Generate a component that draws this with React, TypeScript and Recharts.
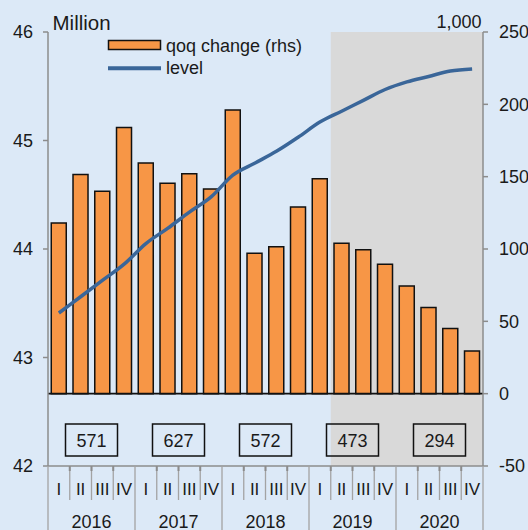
import React from 'react';
import {
  ComposedChart,
  Bar,
  Line,
  XAxis,
  YAxis,
  ReferenceArea,
  ReferenceLine,
} from 'recharts';

const romans = ['I', 'II', 'III', 'IV'];
const years = ['2016', '2017', '2018', '2019', '2020'];
const annualTotals = [571, 627, 572, 473, 294];

const qoqChange = [
  118, 151.5, 140, 184,
  159.5, 145.5, 152, 141.5,
  196, 97, 101.5, 129,
  148.5, 104, 99.5, 89.5,
  74.5, 59.5, 45, 29.5,
];

const level = [
  43.41, 43.56, 43.71, 43.86,
  44.05, 44.19, 44.34, 44.48,
  44.68, 44.79, 44.9, 45.03,
  45.17, 45.27, 45.37, 45.47,
  45.54, 45.59, 45.64, 45.66,
];

const leftTicks = [42, 43, 44, 45, 46];
const rightTicks = [-50, 0, 50, 100, 150, 200, 250];

const seriesNames = ['qoq change (rhs)', 'level'];

const quarters: string[] = [];
years.forEach((y) => romans.forEach((r) => quarters.push(`${r}-${y}`)));

const data = quarters.map((q, i) => ({
  q,
  change: qoqChange[i],
  level: level[i],
}));

const W = 528;
const H = 530;
const LEFT_W = 48;
const RIGHT_W = 45;
const PLOT_W = W - LEFT_W - RIGHT_W;

const TXT = '#1a1a1a';
const AXIS = '#8c8c8c';
const SEP = '#a3a3a3';
const ORANGE = '#f79646';
const BLUE = '#3a6699';
const FONT = '"Liberation Sans", Arial, sans-serif';
const NARROW = '"Liberation Sans Narrow", "Liberation Sans", Arial, sans-serif';

const XTick = (props: any) => {
  const { x, y, payload, index } = props;
  const i: number = typeof index === 'number' ? index : quarters.indexOf(payload.value);
  const bw = PLOT_W / quarters.length;
  const left = x - bw / 2;
  const roman = String(payload.value).split('-')[0];
  const yearStart = i % 4 === 0;
  const els: React.ReactNode[] = [];
  els.push(
    <line key="sep" x1={left} x2={left} y1={y} y2={y + (yearStart ? 66 : 34)} stroke={SEP} strokeWidth={1.3} />
  );
  if (!yearStart) {
    els.push(<line key="tk" x1={left} x2={left} y1={y} y2={y + 5} stroke={AXIS} strokeWidth={2} />);
  }
  if (i === quarters.length - 1) {
    els.push(<line key="end" x1={x + bw / 2} x2={x + bw / 2} y1={y} y2={y + 66} stroke={SEP} strokeWidth={1.3} />);
  }
  els.push(
    <text key="q" x={x} y={y + 28.5} textAnchor="middle" fontSize={17} fontFamily={NARROW} fill={TXT}>
      {roman}
    </text>
  );
  if (i % 4 === 1) {
    const yi = Math.floor(i / 4);
    const cx = x + bw / 2;
    els.push(
      <text key="yr" x={cx} y={y + 61.5} textAnchor="middle" fontSize={18} fontFamily={NARROW} fill={TXT}>
        {years[yi]}
      </text>
    );
    els.push(
      <rect key="box" x={cx - 26} y={y - 42} width={52} height={32} fill="none" stroke="#111" strokeWidth={1.5} />
    );
    els.push(
      <text key="bt" x={cx} y={y - 19.5} textAnchor="middle" fontSize={18} fontFamily={FONT} fill={TXT}>
        {annualTotals[yi]}
      </text>
    );
  }
  return <g>{els}</g>;
};

const LegendOverlay = () => (
  <svg
    width={230}
    height={52}
    style={{ position: 'absolute', left: 100, top: 30, display: 'block', pointerEvents: 'none' }}
  >
    <rect x={8.5} y={10.5} width={52} height={9} fill={ORANGE} stroke="#111" strokeWidth={1.5} />
    <text x={66} y={21.5} fontSize={18} fontFamily={FONT} fill={TXT}>
      {seriesNames[0]}
    </text>
    <line x1={8} x2={61} y1={38.3} y2={38.3} stroke={BLUE} strokeWidth={4} />
    <text x={66} y={44} fontSize={18} fontFamily={FONT} fill={TXT}>
      {seriesNames[1]}
    </text>
  </svg>
);

const MillionLabel = (props: any) => {
  const vb = props.viewBox || { x: 0, y: 32, width: LEFT_W };
  return (
    <text x={vb.x + vb.width + 4.5} y={vb.y - 2} fontSize={20.5} fontFamily={FONT} fill={TXT}>
      Million
    </text>
  );
};

const ThousandLabel = (props: any) => {
  const vb = props.viewBox || { x: W - RIGHT_W, y: 32 };
  return (
    <text x={vb.x - 1.5} y={vb.y - 4.5} textAnchor="end" fontSize={18} fontFamily={FONT} fill={TXT}>
      1,000
    </text>
  );
};

export default function App() {
  return (
    <div
      style={{
        position: 'absolute',
        left: 0,
        top: 0,
        width: W,
        height: H,
        background: '#dce9f7',
        overflow: 'hidden',
      }}
    >
      <ComposedChart
        width={W}
        height={H}
        data={data}
        margin={{ top: 32, right: 0, bottom: 0, left: 0 }}
        barCategoryGap="15%"
      >
        <XAxis
          dataKey="q"
          xAxisId="x"
          interval={0}
          height={64}
          tickSize={0}
          tickMargin={0}
          tickLine={false}
          axisLine={{ stroke: AXIS, strokeWidth: 1.5 }}
          tick={<XTick />}
        />
        <YAxis
          yAxisId="left"
          orientation="left"
          width={LEFT_W}
          domain={[42, 46]}
          ticks={leftTicks}
          allowDataOverflow
          tickSize={5}
          tickMargin={10}
          axisLine={{ stroke: AXIS, strokeWidth: 1.5 }}
          tickLine={{ stroke: AXIS, strokeWidth: 1.5 }}
          tick={{ fontSize: 18, fontFamily: FONT, fill: TXT }}
          label={{ content: <MillionLabel /> }}
        />
        <YAxis
          yAxisId="right"
          orientation="right"
          width={RIGHT_W}
          domain={[-50, 250]}
          ticks={rightTicks}
          allowDataOverflow
          tickSize={5}
          tickMargin={11}
          axisLine={{ stroke: AXIS, strokeWidth: 1.5 }}
          tickLine={{ stroke: AXIS, strokeWidth: 1.5 }}
          tick={{ fontSize: 18, fontFamily: FONT, fill: TXT, textAnchor: 'start' }}
          label={{ content: <ThousandLabel /> }}
        />
        <ReferenceArea
          xAxisId="x"
          yAxisId="left"
          x1="II-2019"
          x2="IV-2020"
          fill="#d9d9d9"
          fillOpacity={1}
          stroke="none"
          ifOverflow="extendDomain"
        />
        <Bar
          xAxisId="x"
          yAxisId="right"
          dataKey="change"
          name={seriesNames[0]}
          fill={ORANGE}
          stroke="#111"
          strokeWidth={1.5}
          isAnimationActive={false}
        />
        <ReferenceLine xAxisId="x" yAxisId="right" y={0} stroke="#111" strokeWidth={1.8} />
        <Line
          xAxisId="x"
          yAxisId="left"
          dataKey="level"
          name={seriesNames[1]}
          type="monotone"
          stroke={BLUE}
          strokeWidth={3.5}
          dot={false}
          activeDot={false}
          isAnimationActive={false}
        />
      </ComposedChart>
      <LegendOverlay />
    </div>
  );
}
